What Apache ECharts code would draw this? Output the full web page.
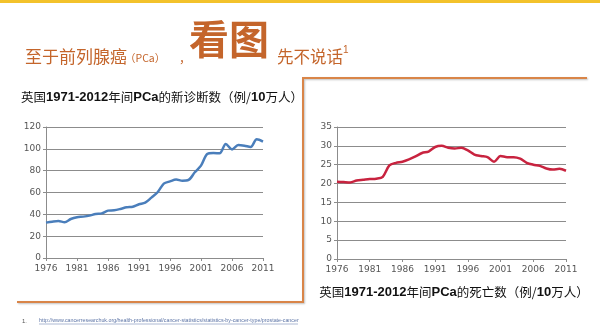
<!DOCTYPE html>
<html>
<head>
<meta charset="utf-8">
<script src="https://cdn.jsdelivr.net/npm/echarts@6/dist/echarts.min.js"></script>
<style>
html,body{margin:0;padding:0;background:#fff;}
#c{width:600px;height:333px;}
</style>
</head>
<body>
<div id="c"></div>
<script>
var years = [];
for (var y = 1976; y <= 2011; y++) years.push(String(y));

var incidence = [32.4,33.3,33.9,32.8,35.7,37.3,37.9,38.8,40.3,40.9,43.4,43.7,44.9,46.4,47.0,49.2,50.7,55.3,60.2,68.1,70.2,71.8,70.8,71.5,78.5,84.6,95.3,96.2,95.9,104.4,99.5,103.5,102.9,101.7,108.7,106.6];
var mortality = [20.5,20.4,20.3,20.8,21.0,21.2,21.3,21.8,24.8,25.5,25.8,26.4,27.2,28.1,28.5,29.7,30.0,29.5,29.3,29.5,28.8,27.7,27.3,27.0,25.8,27.3,27.0,27.0,26.6,25.5,25.0,24.7,24.0,23.7,23.9,23.4];

var leftTicks = {min:0, max:120, interval:20};
var rightTicks = {min:0, max:35, interval:5};

var titleMain = '至于前列腺癌';
var titlePCa = '（PCa）';
var titleBig = '看图';
var titleTail = '先不说话';
var leftTitle = ['英国', '1971-2012', '年间', 'PCa', '的新诊断数（例/', '10', '万人）'];
var rightTitle = ['英国', '1971-2012', '年间', 'PCa', '的死亡数（例/', '10', '万人）'];
var footUrl = 'http://www.cancerresearchuk.org/health-professional/cancer-statistics/statistics-by-cancer-type/prostate-cancer';

var CJK = '"Noto Sans CJK SC", "Microsoft YaHei", sans-serif';
var ORANGE = '#C4652B';
var FRAME = '#D98548';

function richTitle(parts){
  var s = '';
  parts.forEach(function(p, i){
    var bold = /[0-9A-Za-z]/.test(p) && (i % 2 === 1);
    s += '{' + (bold ? 'b' : 'n') + '|' + p + '}';
  });
  return s;
}
var richStyles = {
  n: {fontFamily: CJK, fontSize: 12.5, color: '#111', fontWeight: 'normal'},
  b: {fontFamily: 'Arial, "Liberation Sans", sans-serif', fontSize: 13, color: '#111', fontWeight: 'bold'}
};

function axisSet(gridIndex, ticks){
  return {
    x: {
      type: 'category', gridIndex: gridIndex, data: years, boundaryGap: false,
      axisLine: {lineStyle: {color: '#8c8c8c', width: 1}},
      axisTick: {show: true, interval: 4, length: 3, lineStyle: {color: '#8c8c8c'}},
      axisLabel: {interval: 4, color: '#555', fontSize: 9, fontFamily: 'Tahoma, "DejaVu Sans", sans-serif', margin: 6},
      splitLine: {show: false}
    },
    y: {
      type: 'value', gridIndex: gridIndex, min: ticks.min, max: ticks.max, interval: ticks.interval,
      axisLine: {show: true, lineStyle: {color: '#8c8c8c', width: 1}},
      axisTick: {show: true, length: 3, lineStyle: {color: '#8c8c8c'}},
      axisLabel: {color: '#555', fontSize: 9, fontFamily: 'Tahoma, "DejaVu Sans", sans-serif', margin: 5},
      splitLine: {show: true, lineStyle: {color: '#8c8c8c', width: 1}}
    }
  };
}
var a0 = axisSet(0, leftTicks), a1 = axisSet(1, rightTicks);

var chart = echarts.init(document.getElementById('c'), null, {renderer: 'canvas'});
chart.setOption({
  animation: false,
  backgroundColor: '#fff',
  grid: [
    {left: 46, top: 127, width: 217, height: 131},
    {left: 337, top: 127, width: 229, height: 132}
  ],
  xAxis: [a0.x, a1.x],
  yAxis: [a0.y, a1.y],
  series: [
    {type: 'line', xAxisIndex: 0, yAxisIndex: 0, data: incidence, smooth: 0.3, symbol: 'none',
     lineStyle: {color: '#4A7EBB', width: 2.5}},
    {type: 'line', xAxisIndex: 1, yAxisIndex: 1, data: mortality, smooth: 0.3, symbol: 'none',
     lineStyle: {color: '#C8233F', width: 2.5}}
  ],
  title: [
    {text: richTitle(leftTitle), left: 157, top: 86, textAlign: 'center',
     textStyle: {rich: richStyles}},
    {text: richTitle(rightTitle), left: 449, top: 281, textAlign: 'center',
     textStyle: {rich: richStyles}}
  ],
  graphic: [
    {type: 'rect', shape: {x: 0, y: 0, width: 600, height: 3}, style: {fill: '#F3C22B'}, silent: true},
    // frames
    {type: 'polyline', shape: {points: [[17, 302], [303, 302], [303, 78], [587, 78]]},
     style: {stroke: FRAME, lineWidth: 2, fill: null, shadowColor: 'rgba(0,0,0,0.25)', shadowBlur: 2, shadowOffsetX: 1, shadowOffsetY: 1}, silent: true},
    // heading
    {type: 'text', x: 25, y: 57, style: {text: titleMain, font: '17px ' + CJK, fill: ORANGE, verticalAlign: 'middle'}},
    {type: 'text', x: 125, y: 58, style: {text: titlePCa, font: '10.5px ' + CJK, fill: ORANGE, verticalAlign: 'middle'}},
    {type: 'text', x: 179, y: 58, style: {text: '，', font: '12px ' + CJK, fill: ORANGE, verticalAlign: 'middle'}},
    {type: 'text', x: 189, y: 39, style: {text: titleBig, font: 'bold 40px ' + CJK, fill: ORANGE, verticalAlign: 'middle'}},
    {type: 'text', x: 277, y: 57, style: {text: titleTail, font: '16.5px ' + CJK, fill: ORANGE, verticalAlign: 'middle'}},
    {type: 'text', x: 343, y: 50, style: {text: '1', font: '10px Arial, sans-serif', fill: ORANGE, verticalAlign: 'middle'}},
    // footnote
    {type: 'text', x: 22, y: 321, style: {text: '1.', font: '6px Arial, sans-serif', fill: '#555', verticalAlign: 'middle'}},
    {type: 'text', x: 39, y: 321, style: {text: footUrl, font: '5.3px Arial, "Liberation Sans", sans-serif', fill: '#5B73A5', verticalAlign: 'middle'}},
    {type: 'line', shape: {x1: 39, y1: 324, x2: 298, y2: 324}, style: {stroke: '#5B73A5', lineWidth: 0.5}, silent: true}
  ]
});
</script>
</body>
</html>
